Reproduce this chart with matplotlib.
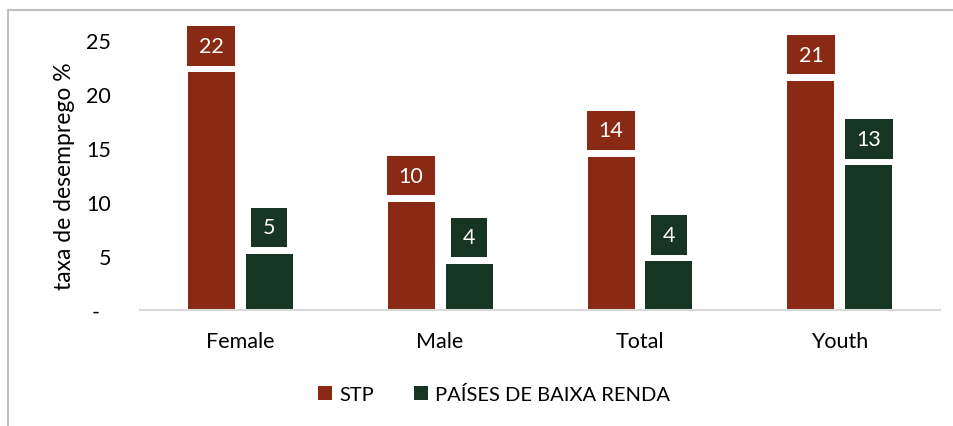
import numpy as np
import matplotlib
matplotlib.use("Agg")
import matplotlib.pyplot as plt
from matplotlib.lines import Line2D

plt.rcParams['font.family'] = ['Lato', 'DejaVu Sans']

categories = ['Female', 'Male', 'Total', 'Youth']
stp = [22.0, 10.0, 14.2, 21.2]
baixa_renda = [5.2, 4.3, 4.5, 13.4]
series_names = ['STP', 'PAÍSES DE BAIXA RENDA']
yticks = [0, 5, 10, 15, 20, 25]
yticklabels = ['-  ', '5', '10', '15', '20', '25']

RED = '#8B2A14'
GREEN = '#163522'
FS = 15.5

fig = plt.figure(figsize=(9.54, 4.27), dpi=100)
ax = fig.add_axes([140/954, 116/427, 800/954, 270/427])

x = np.arange(len(categories))
w = 0.235
off = 0.145
b1 = ax.bar(x - off, stp, w, color=RED, label=series_names[0])
b2 = ax.bar(x + off, baixa_renda, w, color=GREEN, label=series_names[1])

# value labels in coloured boxes above bars
for bars, vals, col in [(b1, stp, RED), (b2, baixa_renda, GREEN)]:
    for rect, v in zip(bars, vals):
        ax.annotate('%d' % round(v), xy=(rect.get_x() + rect.get_width()/2, v),
                    xytext=(0, 19), textcoords='offset points',
                    ha='center', va='center', fontsize=FS, color='white',
                    bbox=dict(boxstyle='square,pad=0.56', fc=col, ec='none',
                              mutation_aspect=0.8),
                    annotation_clip=False)

ax.set_xlim(-0.5, 3.5)
ax.set_ylim(0, 25)
ax.set_yticks(yticks)
ax.set_yticklabels(yticklabels, fontsize=FS)
ax.set_xticks(x)
ax.set_xticklabels(categories, fontsize=FS)
ax.tick_params(axis='both', length=0)
ax.tick_params(axis='y', pad=21)
ax.tick_params(axis='x', pad=15)
for s in ['top', 'right', 'left']:
    ax.spines[s].set_visible(False)
ax.spines['bottom'].set_color('#D9D9D9')
ax.spines['bottom'].set_linewidth(1.5)
ax.set_ylabel('taxa de desemprego %', fontsize=16.5)
ax.yaxis.set_label_coords(-0.081, 0.5)

fig.legend(loc='center', bbox_to_anchor=(494/954, 1 - 395/427), ncol=2,
           frameon=False, fontsize=14.5, handlelength=0.7, handleheight=0.7,
           columnspacing=2.0, handletextpad=0.35)

# chart border (top and left visible)
fig.add_artist(Line2D([8/954, 1], [1 - 11/427, 1 - 11/427], color='#BFBFBF', lw=1.5))
fig.add_artist(Line2D([8/954, 8/954], [0, 1 - 11/427], color='#BFBFBF', lw=1.5))

fig.savefig('out.png', dpi=100)
